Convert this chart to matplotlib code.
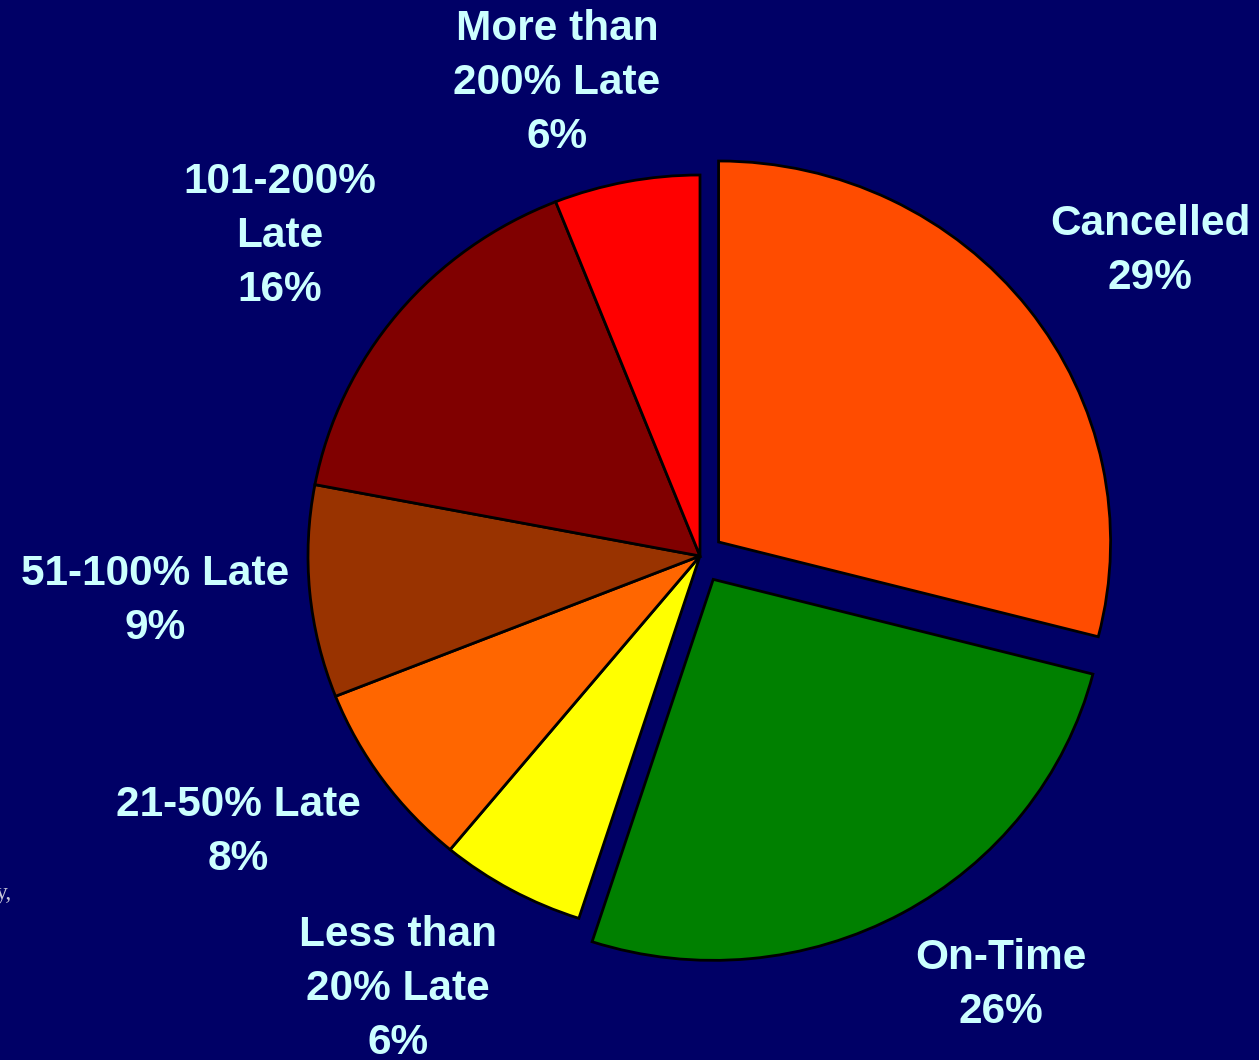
import matplotlib.pyplot as plt

# flight outcome shares, clockwise from 12 o'clock
categories = ["Cancelled", "On-Time", "Less than\n20% Late", "21-50% Late",
              "51-100% Late", "101-200%\nLate", "More than\n200% Late"]
shares = [29, 26, 6, 8, 9, 16, 6]
colors = ["#FF4C00", "#008000", "#FFFF00", "#FF6600", "#993300", "#800000", "#FF0000"]
explode = [0.06, 0.07, 0, 0, 0, 0, 0]

# label centres in pixels (x from left, y from top)
label_px = [(1150, 251), (1001, 985), (398, 989), (238, 832),
            (155, 601), (280, 236), (557, 83)]

W, H = 1259, 1060
cx, cy = 700, 556      # pie centre, pixels
rx, ry = 392, 381      # slightly wider than tall

bg = "#000066"
txt = "#CCFFFF"

fig = plt.figure(figsize=(W / 100, H / 100), dpi=100, facecolor=bg)
ax = fig.add_axes([0, 0, 1, 1])
ax.set_facecolor(bg)
ax.axis("off")

ax.pie(shares, colors=colors, explode=explode, startangle=90, counterclock=False,
       radius=1, center=(0, 0),
       wedgeprops=dict(edgecolor="black", linewidth=2))

# one data unit = rx pixels across, ry pixels down
ax.set_aspect("auto")
ax.set_xlim(-cx / rx, (W - cx) / rx)
ax.set_ylim(-(H - cy) / ry, cy / ry)

for name, val, (px, py) in zip(categories, shares, label_px):
    ax.text((px - cx) / rx, (cy - py) / ry, f"{name}\n{val}%",
            ha="center", va="center", multialignment="center",
            fontsize=30.5, fontweight="bold", color=txt,
            family=["Liberation Sans", "DejaVu Sans"], linespacing=1.45)

# stray fragment of slide text at the left edge
fig.text(-0.003, (H - 893) / H, "y,", ha="left", va="center",
         fontsize=17, color="#C8C8D8", family="Liberation Serif")

fig.savefig("out.png", dpi=100, facecolor=bg)
